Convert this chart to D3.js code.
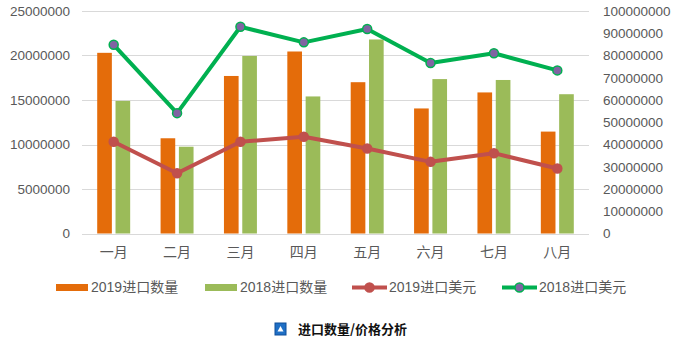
<!DOCTYPE html>
<html>
<head>
<meta charset="utf-8">
<script src="https://cdn.jsdelivr.net/npm/d3@7"></script>
<style>
  html, body { margin: 0; padding: 0; background: #ffffff; }
  svg { display: block; }
  text { font-family: "Liberation Sans", "Noto Sans CJK SC", sans-serif; }
</style>
</head>
<body>
<svg id="chart" width="682" height="344"></svg>
<script>
const categories = ["一月", "二月", "三月", "四月", "五月", "六月", "七月", "八月"];
const qty2019 = [20300000, 10700000, 17700000, 20450000, 17000000, 14050000, 15850000, 11450000];
const qty2018 = [14900000, 9750000, 19950000, 15400000, 21800000, 17350000, 17250000, 15650000];
const usd2019 = [41200000, 27100000, 41200000, 43500000, 38200000, 32200000, 36100000, 29200000];
const usd2018 = [84800000, 54100000, 92900000, 85900000, 91900000, 76600000, 81000000, 73300000];
const leftTicks = [0, 5000000, 10000000, 15000000, 20000000, 25000000];
const rightTicks = [0, 10000000, 20000000, 30000000, 40000000, 50000000, 60000000, 70000000, 80000000, 90000000, 100000000];
const legendLabels = ["2019进口数量", "2018进口数量", "2019进口美元", "2018进口美元"];
const titleText = "进口数量/价格分析";

const svg = d3.select("#chart");
const plot = { left: 82, right: 589, top: 11, bottom: 233.5 };

const x0 = d3.scaleBand().domain(categories).range([plot.left, plot.right]).padding(0);
const x1 = d3.scaleBand().domain(["2019", "2018"]).range([0, x0.bandwidth()])
  .paddingInner(0.2).paddingOuter(0.83);
const yL = d3.scaleLinear().domain([0, 25000000]).range([plot.bottom, plot.top]);
const yR = d3.scaleLinear().domain([0, 100000000]).range([plot.bottom, plot.top]);

const cOrange = "#E46C0A", cLGreen = "#9BBB59", cRed = "#C0504D", cGreen = "#00B050", cPurple = "#8064A2";
const textCol = "#595959";

// gridlines
svg.append("g").selectAll("line").data(leftTicks).join("line")
  .attr("x1", plot.left).attr("x2", plot.right)
  .attr("y1", d => Math.round(yL(d)) + 0.5).attr("y2", d => Math.round(yL(d)) + 0.5)
  .attr("stroke", "#d9d9d9").attr("stroke-width", 1);

// left axis
const axL = svg.append("g").attr("transform", `translate(${plot.left - 12},0)`)
  .call(d3.axisLeft(yL).tickValues(leftTicks).tickFormat(d3.format("d")).tickSize(0).tickPadding(0));
axL.select(".domain").remove();
axL.selectAll("text").attr("fill", textCol).style("font-size", "13.5px");

// right axis
const axR = svg.append("g").attr("transform", `translate(${plot.right + 14},0)`)
  .call(d3.axisRight(yR).tickValues(rightTicks).tickFormat(d3.format("d")).tickSize(0).tickPadding(0));
axR.select(".domain").remove();
axR.selectAll("text").attr("fill", textCol).style("font-size", "13.5px");

// x axis labels
const axB = svg.append("g").attr("transform", `translate(0,${plot.bottom + 14})`)
  .call(d3.axisBottom(x0).tickSize(0).tickPadding(0));
axB.select(".domain").remove();
axB.selectAll("text").attr("fill", textCol).style("font-size", "14px")
  .style("font-family", "'Noto Sans CJK SC', sans-serif");

// bars
const groups = svg.append("g").selectAll("g").data(categories).join("g")
  .attr("transform", d => `translate(${x0(d)},0)`);
groups.append("rect")
  .attr("x", x1("2019")).attr("width", x1.bandwidth())
  .attr("y", (d, i) => yL(qty2019[i])).attr("height", (d, i) => plot.bottom - yL(qty2019[i]))
  .attr("fill", cOrange);
groups.append("rect")
  .attr("x", x1("2018")).attr("width", x1.bandwidth())
  .attr("y", (d, i) => yL(qty2018[i])).attr("height", (d, i) => plot.bottom - yL(qty2018[i]))
  .attr("fill", cLGreen);

const cx = c => x0(c) + x0.bandwidth() / 2;

function drawLine(vals, stroke, markerFill) {
  const line = d3.line().x((d, i) => cx(categories[i])).y(d => yR(d));
  svg.append("path").datum(vals).attr("d", line)
    .attr("fill", "none").attr("stroke", stroke).attr("stroke-width", 4)
    .attr("stroke-linejoin", "round").attr("stroke-linecap", "round");
  svg.append("g").selectAll("circle").data(vals).join("circle")
    .attr("cx", (d, i) => cx(categories[i])).attr("cy", d => yR(d)).attr("r", 4.5)
    .attr("fill", markerFill).attr("stroke", stroke).attr("stroke-width", 1.5);
}
drawLine(usd2019, cRed, cRed);
drawLine(usd2018, cGreen, cPurple);

// legend
const lg = svg.append("g");
const ly = 287.5;
const legendItems = [
  { x: 56, type: "rect", color: cOrange, fill: cOrange, tx: 91 },
  { x: 205, type: "rect", color: cLGreen, fill: cLGreen, tx: 240 },
  { x: 352, type: "line", color: cRed, fill: cRed, tx: 389 },
  { x: 502, type: "line", color: cGreen, fill: cPurple, tx: 539 }
];
legendItems.forEach((it, i) => {
  if (it.type === "rect") {
    lg.append("rect").attr("x", it.x).attr("y", ly - 3.5).attr("width", 32).attr("height", 7).attr("fill", it.color);
  } else {
    lg.append("line").attr("x1", it.x).attr("x2", it.x + 35).attr("y1", ly).attr("y2", ly)
      .attr("stroke", it.color).attr("stroke-width", 4);
    lg.append("circle").attr("cx", it.x + 17.5).attr("cy", ly).attr("r", 4.5)
      .attr("fill", it.fill).attr("stroke", it.color).attr("stroke-width", 1.5);
  }
  lg.append("text").attr("x", it.tx).attr("y", ly).attr("dy", "0.35em")
    .attr("fill", textCol).style("font-size", "14px").text(legendLabels[i]);
});

// title with icon
const tg = svg.append("g");
tg.append("rect").attr("x", 275).attr("y", 323).attr("width", 11).attr("height", 12)
  .attr("fill", "#1f6fc5").attr("stroke", "#0e4e9a").attr("stroke-width", 1);
tg.append("path").attr("d", "M280.5,326 L283.5,331.5 L277.5,331.5 Z").attr("fill", "#ffffff");
tg.append("text").attr("x", 298).attr("y", 329).attr("dy", "0.35em")
  .attr("fill", "#111111").style("font-size", "13px").style("font-weight", "bold")
  .style("font-family", "'Noto Sans CJK SC', sans-serif").text(titleText);
</script>
</body>
</html>
